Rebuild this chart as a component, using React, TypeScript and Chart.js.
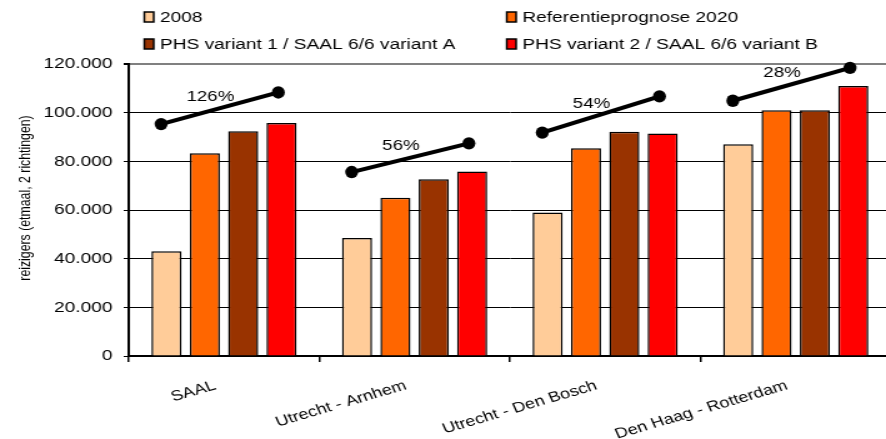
import React, { useEffect, useRef } from 'react';
import { Chart, registerables } from 'chart.js';

Chart.register(...registerables);

// ---------- data ----------
const categories = ['SAAL', 'Utrecht - Arnhem', 'Utrecht - Den Bosch', 'Den Haag - Rotterdam'];
const seriesNames = [
  '2008',
  'Referentieprognose 2020',
  'PHS variant 1 / SAAL 6/6 variant A',
  'PHS variant 2 / SAAL 6/6 variant B',
];
const values2008 = [43000, 48500, 59000, 87000];
const valuesRef2020 = [83300, 65000, 85400, 101000];
const valuesPhs1 = [92400, 72600, 92200, 101000];
const valuesPhs2 = [95800, 75800, 91400, 111000];
const growthStart = [95300, 75600, 91800, 104900];
const growthEnd = [108300, 87400, 106700, 118400];
const growthLabels = ['126%', '56%', '54%', '28%'];
const yAxisTitle = 'reizigers (etmaal, 2 richtingen)';
const yMin = 0;
const yMax = 120000;
const yStep = 20000;

// ---------- style ----------
const seriesColors = ['#FFCC99', '#FF6600', '#993300', '#FF0000'];
const seriesValues = [values2008, valuesRef2020, valuesPhs1, valuesPhs2];
const FONT = "'Liberation Sans', Arial, Helvetica, sans-serif";
const CANVAS_W = 713;
const CANVAS_H = 439;
const DISPLAY_W = 891;
const LINE_START_OFFSET = -0.33; // in category widths from category centre
const LINE_END_OFFSET = 0.285;

const fmt = (v: number) => String(v).replace(/\B(?=(\d{3})+(?!\d))/g, '.');

const overlayPlugin = {
  id: 'overlay',
  afterDatasetsDraw(chart: any) {
    const ctx = chart.ctx;
    const xs = chart.scales.x;
    const ys = chart.scales.y;
    const catW = xs.width / categories.length;
    ctx.save();
    categories.forEach((_, i) => {
      const cx = xs.getPixelForValue(i);
      const x0 = cx + LINE_START_OFFSET * catW;
      const x1 = cx + LINE_END_OFFSET * catW;
      const y0 = ys.getPixelForValue(growthStart[i]);
      const y1 = ys.getPixelForValue(growthEnd[i]);
      ctx.strokeStyle = '#000';
      ctx.lineWidth = 4;
      ctx.beginPath();
      ctx.moveTo(x0, y0);
      ctx.lineTo(x1, y1);
      ctx.stroke();
      ctx.fillStyle = '#000';
      [[x0, y0], [x1, y1]].forEach(([px, py]) => {
        ctx.beginPath();
        ctx.ellipse(px, py, 5.2, 6.2, 0, 0, Math.PI * 2);
        ctx.fill();
      });
      const t = 0.42;
      ctx.font = `15px ${FONT}`;
      ctx.textAlign = 'center';
      ctx.textBaseline = 'middle';
      ctx.fillText(growthLabels[i], x0 + t * (x1 - x0), y0 + t * (y1 - y0) - 14);
    });
    ctx.restore();
  },
  afterDraw(chart: any) {
    const ctx = chart.ctx;
    ctx.save();
    // legend (2 columns x 2 rows)
    const colBox = [115.5, 405.5];
    const rowY = [17, 44];
    ctx.font = `15.3px ${FONT}`;
    ctx.textBaseline = 'middle';
    ctx.textAlign = 'left';
    seriesNames.forEach((name, i) => {
      const bx = colBox[i % 2];
      const by = rowY[Math.floor(i / 2)];
      ctx.fillStyle = seriesColors[i];
      ctx.fillRect(bx, by - 5, 7.5, 10);
      ctx.strokeStyle = '#000';
      ctx.lineWidth = 1.5;
      ctx.strokeRect(bx, by - 5, 7.5, 10);
      ctx.fillStyle = '#000';
      ctx.fillText(name, bx + 12.5, by + 1);
    });
    // y axis title
    ctx.translate(21, 198);
    ctx.rotate(-Math.PI / 2);
    ctx.font = `12.3px ${FONT}`;
    ctx.textAlign = 'center';
    ctx.fillText(yAxisTitle, 0, 0);
    ctx.restore();
  },
};

export default function App() {
  const ref = useRef<HTMLCanvasElement>(null);

  useEffect(() => {
    const canvas = ref.current;
    if (!canvas) return;

    const barSets = seriesNames.map((name, i) => ({
      label: name,
      data: seriesValues[i],
      backgroundColor: seriesColors[i],
      borderColor: '#000',
      borderWidth: 1.5,
      categoryPercentage: 0.805,
      barPercentage: 0.785,
    }));

    const chart = new Chart(canvas, {
      type: 'bar',
      data: { labels: categories, datasets: barSets },
      options: {
        responsive: false,
        animation: false,
        events: [],
        layout: { padding: { top: 64, left: 0, right: 0, bottom: 0 } },
        plugins: {
          legend: { display: false },
          tooltip: { enabled: false },
          title: { display: false },
        },
        scales: {
          x: {
            type: 'category',
            offset: true,
            grid: {
              offset: true,
              drawOnChartArea: false,
              drawTicks: true,
              tickLength: 6,
              color: '#000',
              lineWidth: 1.5,
            },
            border: { color: '#000', width: 2 },
            ticks: {
              autoSkip: false,
              minRotation: 20,
              maxRotation: 20,
              padding: 15,
              labelOffset: -7,
              color: '#000',
              font: { family: FONT, size: 14.5 },
            },
            afterFit: (s: any) => {
              s.height = 83;
            },
          },
          y: {
            type: 'linear',
            min: yMin,
            max: yMax,
            ticks: {
              stepSize: yStep,
              padding: 9,
              color: '#000',
              font: { family: FONT, size: 15.3 },
              callback: (v: any) => fmt(Number(v)),
            },
            grid: {
              color: (c: any) => (c.tick && c.tick.value === yMax ? '#808080' : '#000'),
              lineWidth: (c: any) => (c.tick && c.tick.value === yMax ? 2 : 1),
              tickColor: '#000',
              tickLength: 4,
            },
            border: { color: '#000', width: 2 },
            afterFit: (s: any) => {
              s.width = 103;
            },
          },
        },
      } as any,
      plugins: [overlayPlugin],
    });

    return () => chart.destroy();
  }, []);

  return (
    <div
      style={{
        position: 'fixed',
        left: 0,
        top: 0,
        width: 886,
        height: 439,
        overflow: 'hidden',
        background: '#fff',
      }}
    >
      <canvas
        ref={ref}
        width={CANVAS_W}
        height={CANVAS_H}
        style={{ width: DISPLAY_W, height: CANVAS_H, display: 'block' }}
      />
    </div>
  );
}
